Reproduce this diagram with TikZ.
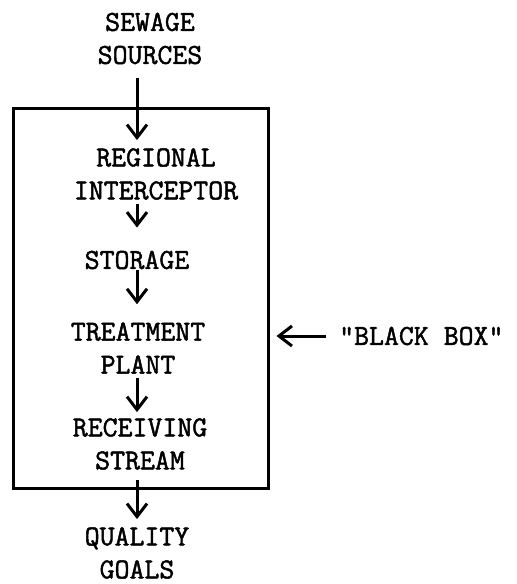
\documentclass[tikz,border=0pt]{standalone}
\usepackage{fontspec}
\newfontfamily\typewriter[FakeBold=1.6]{Latin Modern Mono}
\usetikzlibrary{positioning,arrows.meta}
\tikzset{
  stage/.style={align=center,inner sep=1pt,
               font=\fontsize{29}{33}\selectfont\typewriter},
  flow/.style={-{Straight Barb[length=13pt,width=20pt]},line width=3pt},
  blackbox/.style={draw,line width=3pt,minimum width=255pt,
                   minimum height=380pt,inner sep=0pt},
}

\begin{document}
\begin{tikzpicture}[x=1pt,y=1pt]
  \useasboundingbox (0,0) rectangle (517,-584);
  % the box round the plant
  \node[blackbox] (box) at (140.5,-298) {};
  \node[stage] (src) at (150,-38.5) {SEWAGE\\SOURCES};
  \node[stage] (reg) at (156,-174) {REGIONAL\\INTERCEPTOR};
  \node[stage] (sto) at (137,-260) {STORAGE};
  \node[stage] (trt) at (138,-348) {TREATMENT\\PLANT};
  \node[stage] (rcv) at (140,-444) {RECEIVING\\STREAM};
  \node[stage] (qual) at (137,-553) {QUALITY\\GOALS};
  \node[stage,anchor=west] (bbl) at (338,-336) {"BLACK BOX"};
  \coordinate (ax) at (137,0);
  \draw[flow,shorten <=13pt,shorten >=7pt] (src.south -| ax) -- (reg.north -| ax);
  \draw[flow,shorten <=3pt,shorten >=22pt] (reg.south -| ax) -- (sto.north -| ax);
  \draw[flow,shorten >=17pt] (sto.south -| ax) -- (trt.north -| ax);
  \draw[flow,shorten <=3pt,shorten >=5pt] (trt.south -| ax) -- (rcv.north -| ax);
  \draw[flow,shorten <=9pt,shorten >=7pt] (rcv.south -| ax) -- (qual.north -| ax);
  \draw[flow,shorten <=12pt,shorten >=7pt] (bbl.west) -- (bbl.west -| box.east);
\end{tikzpicture}
\end{document}
